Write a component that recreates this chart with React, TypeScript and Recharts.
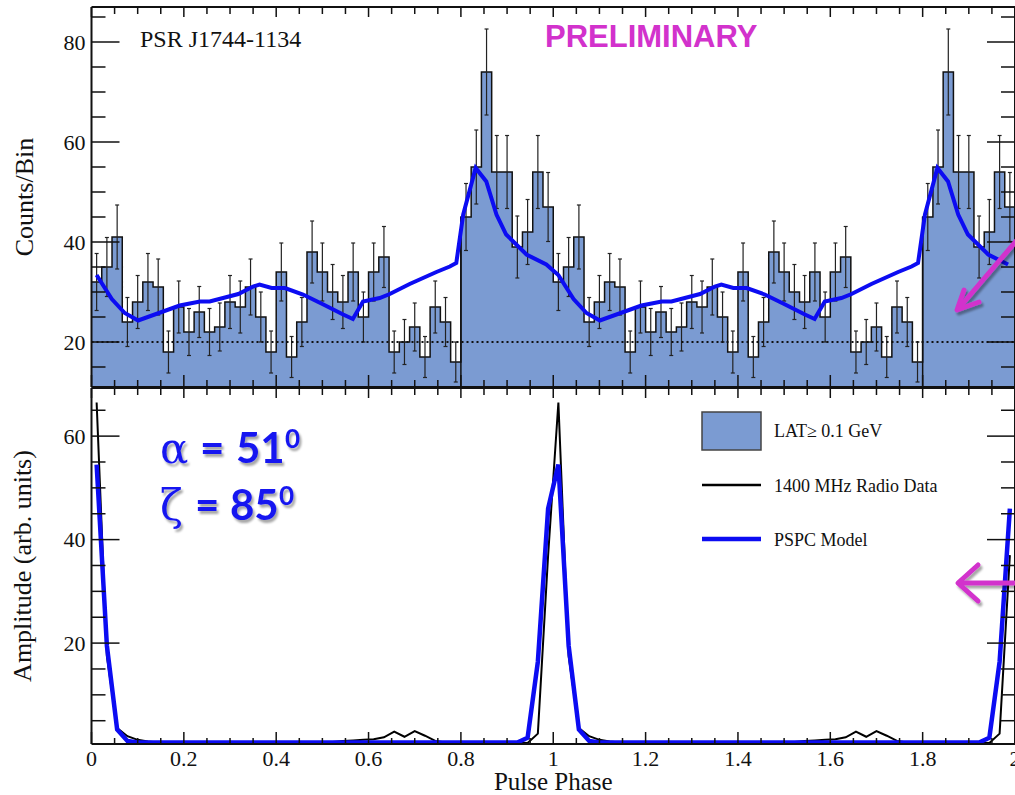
import React from 'react';
import { ComposedChart, Area, Line, XAxis, YAxis, ReferenceLine, ErrorBar, Legend, Label } from 'recharts';

const BINS_PER_CYCLE = 45;
const CYCLES = [0, 1];

// LAT counts per phase bin over one rotation (the plot shows it twice)
const latCounts = [32, 35, 41, 24, 28, 32, 31, 18, 27, 22, 26, 22, 23, 28, 27, 31, 25, 18, 34, 17, 24, 38, 34, 30, 28, 34, 25, 34, 37, 18, 20, 23, 17, 27, 24, 16, 45, 55, 74, 54, 54, 39, 42, 54, 47];
const latErrors = [5.7, 5.9, 6.4, 4.9, 5.3, 5.7, 5.6, 4.2, 5.2, 4.7, 5.1, 4.7, 4.8, 5.3, 5.2, 5.6, 5.0, 4.2, 5.8, 4.1, 4.9, 6.2, 5.8, 5.5, 5.3, 5.8, 5.0, 5.8, 6.1, 4.2, 4.5, 4.8, 4.1, 5.2, 4.9, 4.0, 6.7, 7.4, 8.6, 7.3, 7.3, 6.2, 6.5, 7.3, 6.9];

// PSPC model light curve in counts (vertices of the blue curve, one rotation)
const modelPhase = [0.011, 0.044, 0.072, 0.101, 0.191, 0.235, 0.256, 0.318, 0.35, 0.364, 0.39, 0.419, 0.458, 0.5, 0.545, 0.566, 0.588, 0.624, 0.646, 0.689, 0.747, 0.776, 0.79, 0.805, 0.832, 0.855, 0.877, 0.898, 0.942, 0.985];
const modelCounts = [33.4, 28.6, 25.8, 24.3, 27.3, 28.1, 28.1, 29.6, 31.1, 31.5, 30.8, 30.8, 29.5, 27.6, 25.5, 24.6, 28.1, 28.8, 29.6, 31.6, 34.0, 35.1, 35.8, 45.5, 54.8, 52.1, 45.5, 41.5, 37.5, 35.5];

// bottom panel, amplitude at bin centres
const radioAmp = [66.5, 17.5, 3.6, 2.0, 1.3, 1.0,
  0.8, 0.8, 0.8, 0.8, 0.8, 0.8, 0.8, 0.8, 0.8, 0.8, 0.8, 0.8, 0.8, 0.8, 0.8, 0.8, 0.8,
  0.9, 1.1, 1.2, 1.3, 1.4, 1.8, 2.9, 1.9, 3.0, 2.1, 1.1,
  0.8, 0.8, 0.8, 0.8, 0.8, 0.8, 0.8, 0.8,
  0.7, 2.5, 37.0];
const pspcAmp = [54.5, 19.5, 3.3, 1.1,
  0.8, 0.8, 0.8, 0.8, 0.8, 0.8, 0.8, 0.8, 0.8, 0.8, 0.8, 0.8, 0.8, 0.8, 0.8, 0.8, 0.8, 0.8, 0.8,
  0.8, 0.8, 0.8, 0.8, 0.8, 0.8, 0.8, 0.8, 0.8, 0.8, 0.8, 0.8, 0.8, 0.8, 0.8, 0.8, 0.8, 0.8, 0.8,
  1.7, 16.4, 46.0];

const xMajorTicks = [0, 0.2, 0.4, 0.6, 0.8, 1, 1.2, 1.4, 1.6, 1.8, 2];
const xTickLabels = ['0', '0.2', '0.4', '0.6', '0.8', '1', '1.2', '1.4', '1.6', '1.8', '2'];
const xTicks = Array.from({ length: 41 }, (_, i) => i * 0.05);

const topYTicks = [15, 20, 25, 30, 35, 40, 45, 50, 55, 60, 65, 70, 75, 80, 85];
const topYMajor = [20, 40, 60, 80];
const bottomYTicks = [5, 10, 15, 20, 25, 30, 35, 40, 45, 50, 55, 60, 65];
const bottomYMajor = [20, 40, 60];

const topDomain = [11, 87];
const bottomDomain = [0.5, 69.3];

const legendItems = [
  { label: 'LAT\u2265 0.1 GeV', kind: 'box' },
  { label: '1400 MHz Radio Data', kind: 'radio' },
  { label: 'PSPC Model', kind: 'model' },
];

const AXIS = '#111';
const FILL = '#7b9bd2';
const BLUE = '#0c0cf2';
const MAGENTA = '#d232cc';
const SERIF = '"Liberation Serif", "Times New Roman", serif';

const histData = CYCLES.flatMap(c => latCounts.map((n, i) => ({ phase: c + i / BINS_PER_CYCLE, counts: n })));
histData.push({ phase: 2, counts: latCounts[latCounts.length - 1] });
const errData = CYCLES.flatMap(c => latCounts.map((n, i) => ({ phase: c + (i + 0.5) / BINS_PER_CYCLE, counts: n, err: latErrors[i] })));
const modelData = CYCLES.flatMap(c => modelPhase.map((p, i) => ({ phase: c + p, counts: modelCounts[i] })));
const ampData = CYCLES.flatMap(c => radioAmp.map((a, i) => ({ phase: c + (i + 0.5) / BINS_PER_CYCLE, radio: a, pspc: pspcAmp[i] })));

const xTick = (dir: number, majorLen: number, minorLen: number, withLabel: boolean) => (props: any) => {
  const { x, y, payload } = props;
  const idx = xMajorTicks.findIndex(t => Math.abs(t - payload.value) < 1e-6);
  const len = idx >= 0 ? majorLen : minorLen;
  return (
    <g>
      <line x1={x} x2={x} y1={y} y2={y + dir * len} stroke={AXIS} strokeWidth={1.5} />
      {withLabel && idx >= 0 && (
        <text x={x} y={y + 22} textAnchor="middle" fontSize={22} fontFamily={SERIF} fill={AXIS}>{xTickLabels[idx]}</text>
      )}
    </g>
  );
};

const yTick = (dir: number, majors: number[], withLabel: boolean) => (props: any) => {
  const { x, y, payload } = props;
  const major = majors.includes(payload.value);
  const len = major ? 28 : 14;
  return (
    <g>
      <line x1={x} x2={x + dir * len} y1={y} y2={y} stroke={AXIS} strokeWidth={1.5} />
      {withLabel && major && (
        <text x={x - 6} y={y} dy="0.35em" textAnchor="end" fontSize={22} fontFamily={SERIF} fill={AXIS}>{payload.value}</text>
      )}
    </g>
  );
};

const renderLegend = () => (
  <svg width={320} height={150}>
    {legendItems.map((item, i) => {
      const cy = [20, 75, 129][i];
      return (
        <g key={item.label}>
          {item.kind === 'box' && <rect x={2} y={2} width={59} height={38} fill={FILL} stroke="#444" strokeWidth={1.5} />}
          {item.kind === 'radio' && <line x1={2} x2={61} y1={cy} y2={cy} stroke="#000" strokeWidth={2.5} />}
          {item.kind === 'model' && <line x1={2} x2={61} y1={cy} y2={cy} stroke={BLUE} strokeWidth={4.5} />}
          <text x={74} y={cy + 7} fontSize={18} fontFamily={SERIF} fill="#111">{item.label}</text>
        </g>
      );
    })}
  </svg>
);

// axes get 1px of room so that Recharts still draws them; ticks are drawn inward by the tick renderers
const axisCommon = { stroke: AXIS, axisLine: { strokeWidth: 2 }, tickLine: false, tickSize: 0, tickMargin: 0, interval: 0 as const, allowDataOverflow: true };

const App: React.FC = () => {
  return (
    <div style={{ position: 'absolute', left: 0, top: 0, width: 1015, height: 795, background: '#fff', overflow: 'hidden', fontFamily: SERIF }}>
      <div style={{ position: 'absolute', left: 0, top: 0 }}>
        <ComposedChart width={1017} height={390} margin={{ top: 6, right: 1, bottom: 2, left: 90.5 }}>
          <XAxis xAxisId="b" dataKey="phase" type="number" domain={[0, 2]} ticks={xTicks} height={1} tick={xTick(-1, 12, 7, false)} {...axisCommon} />
          <XAxis xAxisId="t" orientation="top" dataKey="phase" type="number" domain={[0, 2]} ticks={xTicks} height={1} tick={xTick(1, 10, 7, false)} {...axisCommon} />
          <YAxis yAxisId="l" type="number" domain={topDomain} ticks={topYTicks} width={1} tick={yTick(1, topYMajor, true)} {...axisCommon}>
            <Label value="Counts/Bin" angle={-90} position="left" offset={66.5} fontSize={26} fill={AXIS} style={{ textAnchor: 'middle', fontFamily: SERIF }} />
          </YAxis>
          <YAxis yAxisId="r" orientation="right" type="number" domain={topDomain} ticks={topYTicks} width={1} tick={yTick(-1, topYMajor, false)} {...axisCommon} />

          <Area xAxisId="b" yAxisId="l" data={histData} dataKey="counts" type="stepAfter" baseValue={topDomain[0]} fill={FILL} fillOpacity={1} stroke="#111" strokeWidth={1.5} isAnimationActive={false} />
          {CYCLES.map(c => (
            <ReferenceLine key={c} xAxisId="b" yAxisId="l" segment={[{ x: c + 36 / BINS_PER_CYCLE, y: topDomain[0] }, { x: c + 36 / BINS_PER_CYCLE, y: latCounts[36] }]} stroke="#111" strokeWidth={1.5} />
          ))}
          <Line xAxisId="b" yAxisId="l" data={errData} dataKey="counts" stroke="none" dot={false} isAnimationActive={false}>
            <ErrorBar dataKey="err" width={2} stroke="#222" strokeWidth={1.2} />
          </Line>
          <ReferenceLine xAxisId="b" yAxisId="l" y={20} stroke="#111" strokeWidth={2} strokeDasharray="2 3" />
          <Line xAxisId="b" yAxisId="l" data={modelData} dataKey="counts" type="linear" stroke={BLUE} strokeWidth={4} dot={false} isAnimationActive={false} />
        </ComposedChart>
      </div>

      <div style={{ position: 'absolute', left: 0, top: 385 }}>
        <ComposedChart width={1017} height={410} data={ampData} margin={{ top: 2, right: 1, bottom: 50, left: 90.5 }}>
          <XAxis xAxisId="b" dataKey="phase" type="number" domain={[0, 2]} ticks={xTicks} height={1} tick={xTick(-1, 12, 6, true)} {...axisCommon}>
            <Label value="Pulse Phase" position="bottom" offset={27} fontSize={25} fill={AXIS} style={{ fontFamily: SERIF }} />
          </XAxis>
          <XAxis xAxisId="t" orientation="top" dataKey="phase" type="number" domain={[0, 2]} ticks={xTicks} height={1} tick={xTick(1, 10, 7, false)} {...axisCommon} />
          <YAxis yAxisId="l" type="number" domain={bottomDomain} ticks={bottomYTicks} width={1} tick={yTick(1, bottomYMajor, true)} {...axisCommon}>
            <Label value="Amplitude (arb. units)" angle={-90} position="left" offset={68.5} fontSize={26} fill={AXIS} style={{ textAnchor: 'middle', fontFamily: SERIF }} />
          </YAxis>
          <YAxis yAxisId="r" orientation="right" type="number" domain={bottomDomain} ticks={bottomYTicks} width={1} tick={yTick(-1, bottomYMajor, false)} {...axisCommon} />

          <Line xAxisId="b" yAxisId="l" dataKey="radio" type="linear" stroke="#000" strokeWidth={2} dot={false} isAnimationActive={false} />
          <Line xAxisId="b" yAxisId="l" dataKey="pspc" type="linear" stroke={BLUE} strokeWidth={4.5} dot={false} isAnimationActive={false} />
          <Legend layout="horizontal" verticalAlign="middle" align="center" content={renderLegend} wrapperStyle={{ left: 700, top: 25, width: 320, height: 150 }} />
        </ComposedChart>
      </div>

      <svg width={1015} height={795} style={{ position: 'absolute', left: 0, top: 0, pointerEvents: 'none' }}>
        <defs>
          <filter id="shadow" x="-20%" y="-20%" width="140%" height="140%">
            <feDropShadow dx={2} dy={3} stdDeviation={1.3} floodColor="#000" floodOpacity={0.35} />
          </filter>
        </defs>
        <text x={140} y={47} fontSize={24} fontFamily={SERIF} fill="#111">PSR J1744-1134</text>
        <text x={545} y={47} fontSize={31} fontWeight={700} fontFamily='"Liberation Sans", Arial, sans-serif' fill={MAGENTA}>PRELIMINARY</text>

        <g filter="url(#shadow)" fill="#1818f0">
          <text y={463} fontSize={42}>
            <tspan x={160} fontFamily='"DejaVu Serif", serif'>α</tspan>
            <tspan x={200} fontFamily="Lato, sans-serif" fontWeight={700}>=</tspan>
            <tspan x={236} fontFamily="Lato, sans-serif" fontWeight={700}>51</tspan>
          </text>
          <text x={285} y={448} fontSize={26} fontFamily="Lato, sans-serif" fontWeight={700}>0</text>
          <text y={520} fontSize={42}>
            <tspan x={160} fontFamily='"DejaVu Serif", serif'>ζ</tspan>
            <tspan x={195} fontFamily="Lato, sans-serif" fontWeight={700}>=</tspan>
            <tspan x={230} fontFamily="Lato, sans-serif" fontWeight={700}>85</tspan>
          </text>
          <text x={279} y={505} fontSize={26} fontFamily="Lato, sans-serif" fontWeight={700}>0</text>
        </g>

        <g filter="url(#shadow)" stroke={MAGENTA} strokeWidth={5} strokeLinecap="round" strokeLinejoin="round" fill="none">
          <line x1={1017} y1={240} x2={959} y2={308} />
          <polyline points="979,302 957,310 964,290" />
          <line x1={1017} y1={583} x2={960} y2={583} />
          <polyline points="978,565 958,583 978,601" />
        </g>
      </svg>
    </div>
  );
};

export default App;
